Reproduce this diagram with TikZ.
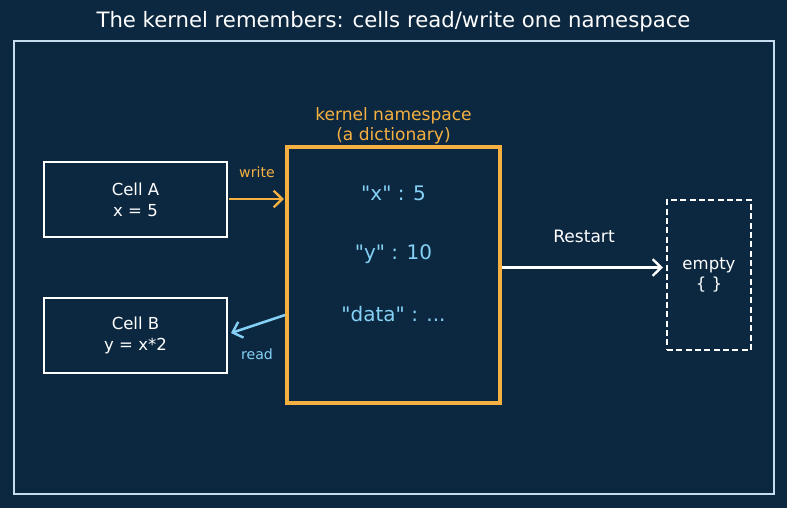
\documentclass[tikz,border=0pt]{standalone}
\usepackage{fontspec}
\setmainfont{DejaVu Sans}[Ligatures=TeXOff]
\usetikzlibrary{arrows.meta}
\definecolor{bgnavy}{HTML}{0C2840}
\definecolor{nsorange}{HTML}{F5B041}
\definecolor{readblue}{HTML}{85D1F5}
\definecolor{framegray}{HTML}{C5DDEE}
\begin{document}
\begin{tikzpicture}[x=0.75pt,y=-0.75pt,
  cellbox/.style={draw=white,line width=1.5pt,minimum width=137.25pt,minimum height=56.25pt,
    text=white,align=center,font=\fontsize{12.4}{15.5}\selectfont,inner sep=0pt},
  entry/.style={text=readblue,font=\fontsize{15}{18}\selectfont,inner sep=0pt},
  smalllabel/.style={font=\fontsize{10.6}{12}\selectfont,inner sep=0pt},
  barb/.style={-{Straight Barb[length=6.5pt,width=12.5pt,line width=1.8pt]},line width=1.9pt}]
  % background and bounding box
  \fill[bgnavy] (0,0) rectangle (787,508);
  \useasboundingbox (0,0) rectangle (787,508);
  % title
  \node[text=white,font=\fontsize{15.9}{18}\selectfont,inner sep=0pt] (title) at (393.5,22) {The kernel remembers: cells read/write one namespace};
  % outer frame
  \draw[framegray,line width=1.1pt] (14,41) rectangle (774,494);
  % cells
  \node[cellbox] (cellA) at (135.5,199.5) {Cell A\\x = 5};
  \node[cellbox] (cellB) at (135.5,335.5) {Cell B\\y = x*2};
  % namespace
  \node[draw=nsorange,line width=2.3pt,minimum width=159.75pt,minimum height=192pt,inner sep=0pt] (ns) at (393.5,275) {};
  \node[text=nsorange,align=center,font=\fontsize{12.8}{15}\selectfont,inner sep=0pt] (nslabel) at (393.5,126) {kernel namespace\\(a dictionary)};
  \node[entry] (ex) at (393.5,193) {"x" : 5};
  \node[entry] (ey) at (393.5,254) {"y" : 10};
  \node[entry] (edata) at (393.5,314) {"data" : ...};
  % empty namespace after restart
  \node[draw=white,dashed,dash pattern=on 4.5pt off 2.5pt,line width=1.3pt,minimum width=63pt,minimum height=112.5pt,
    text=white,align=center,font=\fontsize{12.4}{15}\selectfont,inner sep=0pt] (empty) at (709,275) {empty\\\{ \}};
  % connectors
  \coordinate (wA) at (229,199);
  \coordinate (wN) at (284,199);
  \draw[barb,nsorange] (wA) -- (wN);
  \node[smalllabel,text=nsorange] (wlabel) at (257,172) {write};
  \coordinate (rN) at (285,315);
  \coordinate (rB) at (231,333);
  \draw[barb,readblue] (rN) -- (rB);
  \node[smalllabel,text=readblue] (rlabel) at (257,354) {read};
  \coordinate (sN) at (502,267.5);
  \coordinate (sE) at (663,267.5);
  \draw[barb,white] (sN) -- (sE);
  \node[text=white,font=\fontsize{12.8}{15}\selectfont,inner sep=0pt] (rslabel) at (584,236) {Restart};
\end{tikzpicture}
\end{document}
